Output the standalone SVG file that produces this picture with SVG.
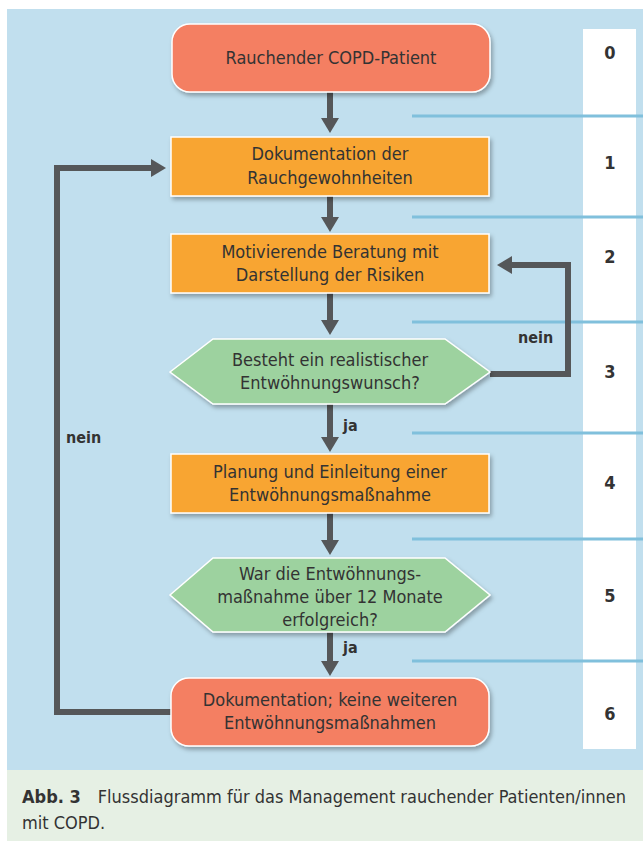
<svg xmlns="http://www.w3.org/2000/svg" width="643" height="841" viewBox="0 0 643 841">
<style>
.t{font-family:"DejaVu Sans Condensed","DejaVu Sans","Liberation Sans",sans-serif;font-size:18px;fill:#333333;text-anchor:middle}
.b{font-family:"DejaVu Sans Condensed","DejaVu Sans","Liberation Sans",sans-serif;font-size:16px;font-weight:bold;fill:#333333}
.num{text-anchor:middle;font-size:18px}
.red{fill:#f47f62;stroke:#ffffff;stroke-width:1.5;filter:url(#sh)}
.org{fill:#f8a532;stroke:#ffffff;stroke-width:1.5;filter:url(#sh)}
.grn{fill:#9dd29f;stroke:#ffffff;stroke-width:1.5;filter:url(#sh)}
.sep{stroke:#80c0dc;stroke-width:3}
.con{fill:none;stroke:#555759;stroke-width:6;stroke-linejoin:miter;marker-end:url(#ah)}
.cap{font-family:"DejaVu Sans Condensed","DejaVu Sans","Liberation Sans",sans-serif;font-size:18px;fill:#333333}
</style>
<defs>
<marker id="ah" markerUnits="userSpaceOnUse" markerWidth="16" markerHeight="20" refX="0" refY="9" orient="auto" overflow="visible">
<path d="M0,0 L15,9 L0,18 z" fill="#555759"/>
</marker>
<filter id="sh" x="-10%" y="-10%" width="125%" height="140%">
<feDropShadow dx="2" dy="3" stdDeviation="2" flood-color="#000000" flood-opacity="0.3"/>
</filter>
</defs>
<rect x="0" y="0" width="643" height="841" fill="#ffffff"/>
<rect x="7" y="9" width="636" height="761" fill="#c1dfee"/>
<rect x="7" y="770" width="636" height="71" fill="#e6f0e4"/>
<rect x="583" y="29" width="53" height="720" fill="#ffffff"/>
<g id="separators">
<line class="sep" x1="412" y1="116" x2="643" y2="116"/>
<line class="sep" x1="412" y1="217" x2="643" y2="217"/>
<line class="sep" x1="412" y1="322" x2="643" y2="322"/>
<line class="sep" x1="412" y1="433" x2="643" y2="433"/>
<line class="sep" x1="412" y1="539" x2="643" y2="539"/>
<line class="sep" x1="412" y1="661" x2="643" y2="661"/>
</g>
<g id="numbers" class="b">
<text class="b num" x="610" y="59">0</text>
<text class="b num" x="610" y="169">1</text>
<text class="b num" x="610" y="263">2</text>
<text class="b num" x="610" y="378">3</text>
<text class="b num" x="610" y="489">4</text>
<text class="b num" x="610" y="602">5</text>
<text class="b num" x="610" y="720">6</text>
</g>
<g id="connectors">
<path class="con" d="M330,92 V118"/>
<path class="con" d="M330,196 V217"/>
<path class="con" d="M330,293 V320"/>
<path class="con" d="M330,404 V437"/>
<path class="con" d="M330,513 V540"/>
<path class="con" d="M330,632 V661"/>
<path class="con" d="M490,374 H568 V265 H512"/>
<path class="con" d="M171,712 H57 V168 H151"/>
<text class="b" x="518" y="343">nein</text>
<text class="b" x="343" y="431">ja</text>
<text class="b" x="66" y="443">nein</text>
<text class="b" x="343" y="653">ja</text>
</g>
<g id="n0">
<rect class="red" x="172" y="24" width="318" height="68" rx="18"/>
<text class="t" x="331" y="64">Rauchender COPD-Patient</text>
</g>
<g id="n1">
<rect class="org" x="171" y="137" width="318" height="59"/>
<text class="t" x="330" y="160">Dokumentation der</text>
<text class="t" x="330" y="184">Rauchgewohnheiten</text>
</g>
<g id="n2">
<rect class="org" x="171" y="234" width="318" height="59"/>
<text class="t" x="330" y="258">Motivierende Beratung mit</text>
<text class="t" x="330" y="281">Darstellung der Risiken</text>
</g>
<g id="n3">
<polygon class="grn" points="170,372 213,339 445,339 490,372 445,404 213,404"/>
<text class="t" x="330" y="366">Besteht ein realistischer</text>
<text class="t" x="330" y="389">Entwöhnungswunsch?</text>
</g>
<g id="n4">
<rect class="org" x="171" y="454" width="318" height="59"/>
<text class="t" x="330" y="478">Planung und Einleitung einer</text>
<text class="t" x="330" y="501">Entwöhnungsmaßnahme</text>
</g>
<g id="n5">
<polygon class="grn" points="170,595 213,558 445,558 490,595 445,632 213,632"/>
<text class="t" x="330" y="580">War die Entwöhnungs-</text>
<text class="t" x="330" y="603">maßnahme über 12 Monate</text>
<text class="t" x="330" y="626">erfolgreich?</text>
</g>
<g id="n6">
<rect class="red" x="171" y="678" width="318" height="68" rx="18"/>
<text class="t" x="330" y="706">Dokumentation; keine weiteren</text>
<text class="t" x="330" y="729">Entwöhnungsmaßnahmen</text>
</g>
<g id="caption">
<text class="cap" x="22" y="803"><tspan font-weight="bold">Abb. 3</tspan><tspan dx="17">Flussdiagramm für das Management rauchender Patienten/innen</tspan></text>
<text class="cap" x="22" y="829">mit COPD.</text>
</g>
</svg>
